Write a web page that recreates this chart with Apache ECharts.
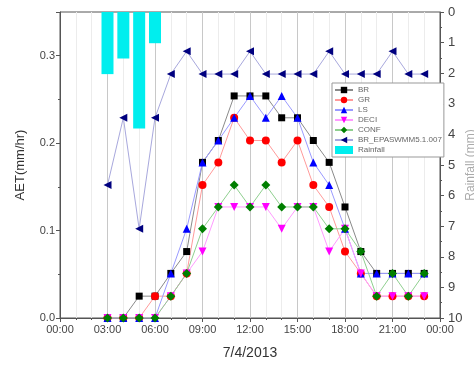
<!DOCTYPE html>
<html>
<head>
<meta charset="utf-8">
<script src="https://cdn.jsdelivr.net/npm/echarts@6/dist/echarts.min.js"></script>
<style>
  html, body { margin: 0; padding: 0; background: #fff; }
  #aetChart { width: 474px; height: 368px; }
</style>
</head>
<body>
<div id="aetChart"></div>
<script>
// hour of day (7/4/2013)
var hours = [3, 4, 5, 6, 7, 8, 9, 10, 11, 12, 13, 14, 15, 16, 17, 18, 19, 20, 21, 22, 23];
// AET (mm/hr)
var br = [0, 0, 0.025, 0.025, 0.051, 0.076, 0.178, 0.203, 0.254, 0.254, 0.254, 0.229, 0.229, 0.203, 0.178, 0.127, 0.076, 0.051, 0.051, 0.051, 0.051];
var gr = [0, 0, 0, 0.025, 0.025, 0.051, 0.152, 0.178, 0.229, 0.203, 0.203, 0.178, 0.203, 0.152, 0.127, 0.076, 0.051, 0.025, 0.025, 0.025, 0.025];
var ls = [0, 0, 0, 0, 0.051, 0.102, 0.178, 0.203, 0.229, 0.254, 0.229, 0.254, 0.229, 0.178, 0.152, 0.102, 0.051, 0.051, 0.051, 0.051, 0.051];
var deci = [0, 0, 0, 0, 0.025, 0.051, 0.076, 0.127, 0.127, 0.127, 0.127, 0.102, 0.127, 0.127, 0.076, 0.102, 0.051, 0.025, 0.025, 0.025, 0.025];
var conf = [0, 0, 0, 0, 0.025, 0.051, 0.102, 0.127, 0.152, 0.127, 0.152, 0.127, 0.127, 0.127, 0.102, 0.102, 0.076, 0.025, 0.051, 0.025, 0.051];
var brEpa = [0.152, 0.229, 0.102, 0.229, 0.279, 0.305, 0.279, 0.279, 0.279, 0.305, 0.279, 0.279, 0.279, 0.279, 0.305, 0.279, 0.279, 0.279, 0.305, 0.279, 0.279];
// rainfall (mm), right axis
var rainHours = [3, 4, 5, 6];
var rain = [2.03, 1.52, 3.81, 1.02];

var xTicks = ["00:00", "03:00", "06:00", "09:00", "12:00", "15:00", "18:00", "21:00", "00:00"];

function pairs(xs, ys) {
  return xs.map(function (x, i) { return [x, ys[i]]; });
}

function lineSeries(name, values, symbol, size, color, lineColor, rotate) {
  return {
    name: name,
    type: "line",
    data: pairs(hours, values),
    symbol: symbol,
    symbolSize: size,
    symbolRotate: rotate || 0,
    showSymbol: true,
    itemStyle: { color: color },
    lineStyle: { color: lineColor, width: 1 },
    emphasis: { disabled: true },
    z: 3
  };
}

var chart = echarts.init(document.getElementById("aetChart"));
var font = "Liberation Sans, Arial, sans-serif";

chart.setOption({
  animation: false,
  backgroundColor: "#fff",
  grid: {
    left: 60, right: 34, top: 12, bottom: 50,
    outerBoundsMode: "none",
    show: true, borderColor: "#555", borderWidth: 1, backgroundColor: "transparent"
  },
  legend: {
    orient: "vertical",
    left: 332, top: 83,
    padding: [3, 2, 3, 2],
    itemWidth: 18, itemHeight: 8, itemGap: 2,
    backgroundColor: "#fff",
    borderColor: "#999", borderWidth: 1,
    textStyle: { fontSize: 8, color: "#666", fontFamily: font, lineHeight: 8 },
    data: ["BR", "GR", "LS", "DECI", "CONF", "BR_EPASWMM5.1.007", { name: "Rainfall", icon: "rect" }]
  },
  xAxis: {
    type: "value",
    min: 0, max: 24, interval: 3,
    name: "7/4/2013", nameLocation: "middle", nameGap: 28,
    nameTextStyle: { fontSize: 14, color: "#333", fontFamily: font },
    axisLine: { lineStyle: { color: "#555" } },
    axisTick: { inside: false, length: 4, lineStyle: { color: "#555" } },
    minorTick: { show: true, splitNumber: 3, length: 2, lineStyle: { color: "#555" } },
    axisLabel: {
      fontSize: 11, color: "#444", fontFamily: font, margin: 6,
      formatter: function (v) { return xTicks[v / 3]; }
    },
    splitLine: { show: true, lineStyle: { color: "#c8c8c8", width: 1 } },
    minorSplitLine: { show: true, lineStyle: { color: "#ececec", width: 1 } }
  },
  yAxis: [
    {
      type: "value",
      min: 0, max: 0.35, interval: 0.1,
      name: "AET(mm/hr)", nameLocation: "middle", nameGap: 33, nameRotate: 90,
      nameTextStyle: { fontSize: 13, color: "#333", fontFamily: font },
      axisLine: { show: true, lineStyle: { color: "#555" } },
      axisTick: { show: true, inside: false, length: 4, lineStyle: { color: "#555" } },
      minorTick: { show: true, splitNumber: 2, length: 2, lineStyle: { color: "#555" } },
      axisLabel: {
        fontSize: 11, color: "#444", fontFamily: font, margin: 5, showMaxLabel: false,
        formatter: function (v) { return v.toFixed(1); }
      },
      splitLine: { show: false }
    },
    {
      type: "value",
      position: "right",
      inverse: true,
      min: 0, max: 10, interval: 1,
      name: "Rainfall (mm)", nameLocation: "middle", nameGap: 25, nameRotate: 90,
      nameMoveOverlap: false,
      nameTextStyle: { fontSize: 12, color: "#aaa", fontFamily: font },
      axisLine: { show: true, lineStyle: { color: "#555" } },
      axisTick: { show: true, inside: false, length: 4, lineStyle: { color: "#555" } },
      minorTick: { show: true, splitNumber: 2, length: 2, lineStyle: { color: "#555" } },
      axisLabel: { fontSize: 13, color: "#444", fontFamily: font, margin: 8 },
      splitLine: { show: false }
    }
  ],
  series: [
    {
      name: "Rainfall",
      type: "bar",
      yAxisIndex: 1,
      data: pairs(rainHours, rain),
      barWidth: 12,
      itemStyle: { color: "#00eeee" },
      emphasis: { disabled: true },
      z: 2
    },
    lineSeries("BR", br, "rect", 7, "#000", "#8a8a8a"),
    lineSeries("GR", gr, "circle", 8, "#ff0000", "#ff9a9a"),
    lineSeries("LS", ls, "triangle", 8, "#0000ff", "#9a9aff"),
    lineSeries("DECI", deci, "triangle", 8, "#ff00ff", "#ff9aff", 180),
    lineSeries("CONF", conf, "diamond", 9, "#007f00", "#8fcf8f"),
    lineSeries("BR_EPASWMM5.1.007", brEpa, "triangle", 8, "#00007f", "#a8a8dd", 90)
  ]
});
</script>
</body>
</html>
